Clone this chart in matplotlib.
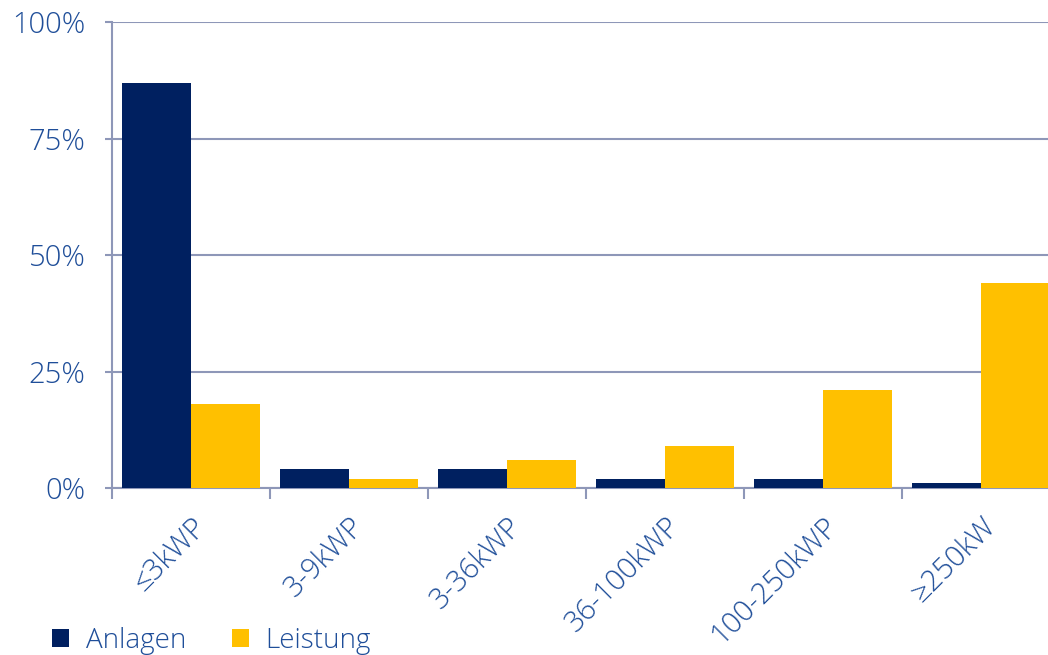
import matplotlib
matplotlib.use("Agg")
import matplotlib.pyplot as plt
import numpy as np
from matplotlib.ticker import FixedLocator

categories = ["≤3kWP", "3-9kWP", "3-36kWP", "36-100kWP", "100-250kWP", "≥250kW"]
anlagen = [87, 4, 4, 2, 2, 1]
leistung = [18, 2, 6, 9, 21, 44]
yticks = [0, 25, 50, 75, 100]
ytick_labels = ["0%", "25%", "50%", "75%", "100%"]

navy = "#002060"
yellow = "#FFC000"
txt = "#1F4E99"
grid = "#8E97B8"

plt.rcParams['font.family'] = ['Open Sans', 'DejaVu Sans']
plt.rcParams['font.weight'] = 'light'

W, H = 1048, 655
fig = plt.figure(figsize=(W/100, H/100), dpi=100)
left, right, top, bottom = 112, 1060, 22, 488
ax = fig.add_axes([left/W, 1-bottom/H, (right-left)/W, (bottom-top)/H])

x = np.arange(len(categories))
bw = 0.434
ax.bar(x - bw/2, anlagen, bw, color=navy, label="Anlagen", zorder=3)
ax.bar(x + bw/2, leistung, bw, color=yellow, label="Leistung", zorder=3)

ax.set_xlim(-0.5, len(categories) - 0.5)
ax.set_ylim(0, 100)
ax.set_yticks(yticks)
ax.set_yticklabels(ytick_labels, fontsize=21, color=txt)
ax.yaxis.grid(True, color=grid, linewidth=1.5, zorder=0)
ax.tick_params(axis='y', length=5, width=1.5, color=grid, pad=14)

ax.xaxis.set_major_locator(FixedLocator(np.arange(len(categories)+1) - 0.5))
ax.xaxis.set_minor_locator(FixedLocator(x))
ax.set_xticklabels([], minor=False)
ax.set_xticklabels(categories, minor=True, fontsize=21, color=txt, rotation=45,
                   ha='right', va='top', rotation_mode='anchor')
ax.tick_params(axis='x', which='major', length=8, width=1.5, color=grid, direction='out')
ax.tick_params(axis='x', which='minor', length=0, pad=17)

for s in ['top', 'right']:
    ax.spines[s].set_visible(False)
for s in ['left', 'bottom']:
    ax.spines[s].set_color(grid)
    ax.spines[s].set_linewidth(1.5)

leg = fig.legend(loc='lower left', bbox_to_anchor=(38/W, -14/H), ncol=2, frameon=False,
                 fontsize=20, handlelength=0.62, handleheight=0.62, handletextpad=0.6,
                 columnspacing=1.65, labelcolor=txt, borderaxespad=0.1)

fig.savefig("out.png", dpi=100)
